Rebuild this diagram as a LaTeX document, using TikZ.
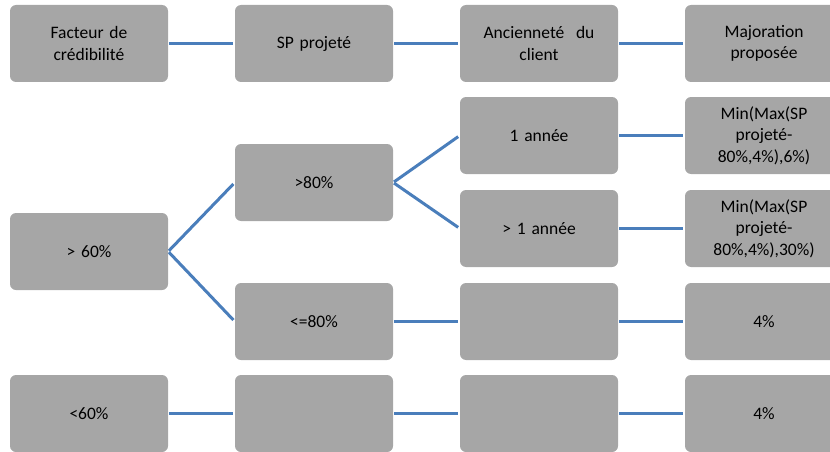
\documentclass[tikz,border=0pt]{standalone}
\usepackage{fontspec}
\setmainfont[WordSpace=0.8]{Carlito}
\definecolor{boxgray}{RGB}{166,166,166}
\definecolor{linkblue}{RGB}{74,126,187}
\begin{document}
\begin{tikzpicture}[x=1pt,y=-1pt,
  cell/.style={fill=boxgray, rounded corners=6pt, minimum width=158pt, minimum height=77pt,
    inner sep=2pt, align=center, text width=150pt,
    font=\fontsize{17.5}{21.5}\selectfont, text=black},
  link/.style={draw=linkblue, line width=3pt, shorten <=1pt, shorten >=2pt}]
\useasboundingbox (0,0) rectangle (830,452);
\clip (0,0) rectangle (830,452);
% header row
\node[cell] (h1) at (89,43.5) {Facteur de\\crédibilité};
\node[cell] (h2) at (314,43.5) {SP projeté};
\node[cell] (h3) at (539,43.5) {Ancienneté~ du\\client};
\node[cell] (h4) at (764,43.5) {Majoration\\proposée};
% tree
\node[cell] (a1) at (89,251.5) {> 60\%};
\node[cell] (b1) at (314,182.5) {>80\%};
\node[cell] (b2) at (314,321.5) {<=80\%};
\node[cell] (c1) at (539,135.5) {1 année};
\node[cell] (c2) at (539,228.5) {> 1 année};
\node[cell] (c3) at (539,321.5) {};
\node[cell] (d1) at (764,135.5) {Min(Max(SP\\projeté-\\80\%,4\%),6\%)};
\node[cell] (d2) at (764,228.5) {Min(Max(SP\\projeté-\\80\%,4\%),30\%)};
\node[cell] (d3) at (764,321.5) {4\%};
% bottom row
\node[cell] (e1) at (89,413.5) {<60\%};
\node[cell] (e2) at (314,413.5) {};
\node[cell] (e3) at (539,413.5) {};
\node[cell] (e4) at (764,413.5) {4\%};
% connectors
\draw[link] (h1.east) -- (h2.west);
\draw[link] (h2.east) -- (h3.west);
\draw[link] (h3.east) -- (h4.west);
\draw[link] (a1.east) -- (b1.west);
\draw[link] (a1.east) -- (b2.west);
\draw[link] (b1.east) -- (c1.west);
\draw[link] (b1.east) -- (c2.west);
\draw[link] (c1.east) -- (d1.west);
\draw[link] (c2.east) -- (d2.west);
\draw[link] (b2.east) -- (c3.west);
\draw[link] (c3.east) -- (d3.west);
\draw[link] (e1.east) -- (e2.west);
\draw[link] (e2.east) -- (e3.west);
\draw[link] (e3.east) -- (e4.west);
\end{tikzpicture}
\end{document}
